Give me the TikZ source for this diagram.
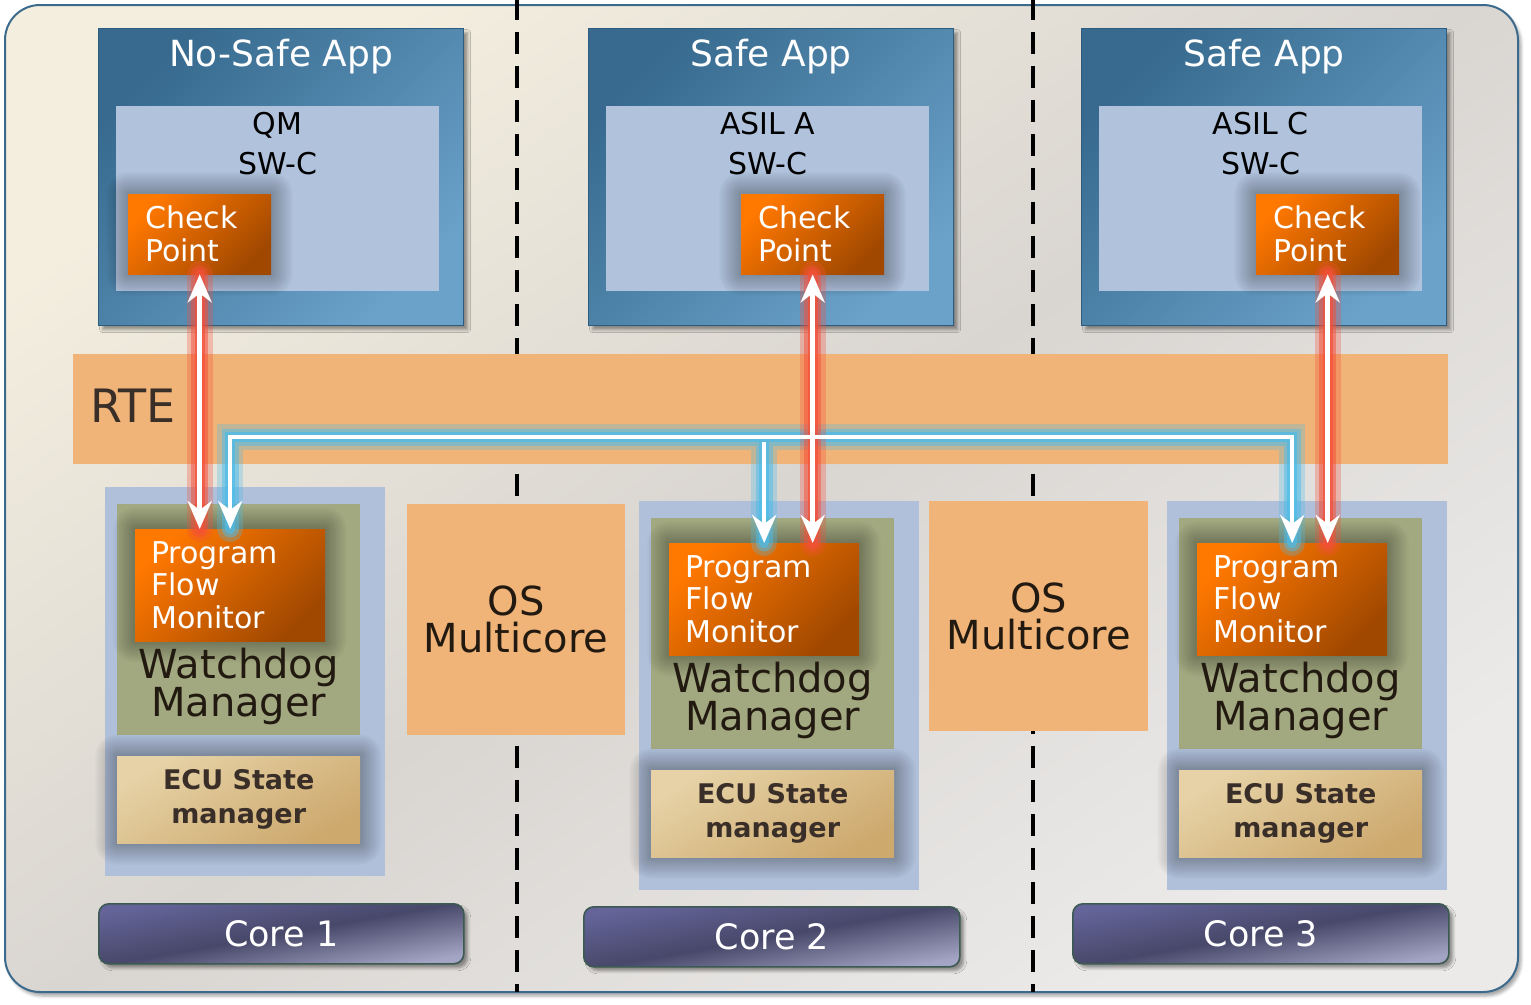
\documentclass[tikz,border=0pt]{standalone}
\usepackage{fontspec}
\setmainfont{DejaVu Sans}
\usetikzlibrary{arrows.meta,shadows,shadows.blur}

\definecolor{appdark}{HTML}{376A8E}
\definecolor{applight}{HTML}{6BA2CA}
\definecolor{appedge}{HTML}{2E5C7E}
\definecolor{swcfill}{HTML}{B0C2DC}
\definecolor{orangelight}{HTML}{FF7800}
\definecolor{orangedark}{HTML}{A04800}
\definecolor{rtefill}{HTML}{F0B378}
\definecolor{stackfill}{HTML}{B0C0DA}
\definecolor{wdgfill}{HTML}{A2A880}
\definecolor{eculight}{HTML}{E6D2A6}
\definecolor{ecudark}{HTML}{CDA96E}
\definecolor{corelight}{HTML}{64649A}
\definecolor{coredark}{HTML}{48486A}
\definecolor{corepale}{HTML}{A4A4C4}
\definecolor{coreedge}{HTML}{3C5A52}
\definecolor{frameedge}{HTML}{3C6A8C}
\definecolor{framecream}{HTML}{F3EEDE}
\definecolor{framegrey}{HTML}{D9D5D1}
\definecolor{framepale}{HTML}{EBEAE9}
\definecolor{textdark}{HTML}{3A2E28}
\definecolor{wdgtext}{HTML}{221A10}
\definecolor{redglow}{HTML}{F4503A}
\definecolor{blueglow}{HTML}{4EBCE8}

% soft dark halo round a box: x, y, width, height
\newcommand\haloat[4]{%
  \foreach \k in {1,...,12}
    \fill[black, opacity=.022, rounded corners=1.8pt*\k]
      (#1-1.8*\k, #2-1.8*\k) rectangle (#1+#3+1.8*\k, #2+#4+1.8*\k);}

\begin{document}
\begin{tikzpicture}[x=1pt, y=-1pt,
  >={Stealth[length=28pt,width=24pt,inset=9pt]},
  box/.style={anchor=north west, inner sep=0pt},
  appbox/.style={box, minimum width=365pt, minimum height=297pt,
      draw=appedge, line width=1.2pt, top color=appdark, bottom color=applight,
      shading angle=45, blur shadow={shadow xshift=4pt, shadow yshift=-4pt,
      shadow blur radius=3pt, shadow opacity=40}},
  apptitle/.style={anchor=north, inner sep=0pt, text=white,
      font=\fontsize{36}{40}\selectfont},
  swcbox/.style={box, minimum width=323pt, minimum height=185pt, fill=swcfill},
  swctext/.style={anchor=north, inner sep=0pt, align=center,
      font=\fontsize{30}{40}\selectfont},
  orangebox/.style={box, top color=orangelight, bottom color=orangedark,
      shading angle=45, text=white, align=left},
  cpbox/.style={orangebox, minimum width=143pt, minimum height=80pt,
      inner xsep=17pt, text width=109pt, font=\fontsize{30}{33}\selectfont},
  pfmbox/.style={orangebox, minimum width=190pt, minimum height=112pt,
      inner xsep=16pt, text width=158pt, font=\fontsize{30}{32.5}\selectfont},
  stackbox/.style={box, minimum width=280pt, minimum height=389pt, fill=stackfill},
  wdgbox/.style={box, minimum width=243pt, minimum height=231pt, fill=wdgfill},
  bigtext/.style={inner sep=0pt, align=center, text=wdgtext,
      font=\fontsize{40}{34}\selectfont},
  ecubox/.style={box, minimum width=243pt, minimum height=87pt, align=center,
      top color=eculight, bottom color=ecudark, shading angle=30, text=textdark,
      font=\fontsize{27}{34}\selectfont\bfseries},
  osbox/.style={box, fill=rtefill, align=center, text=wdgtext,
      font=\fontsize{40}{37}\selectfont},
  corebar/.style={box, minimum height=60pt, rounded corners=10pt,
      draw=coreedge, line width=1.6pt, top color=corelight, bottom color=corepale,
      middle color=coredark, shading angle=10, text=white,
      font=\fontsize{35}{40}\selectfont,
      blur shadow={shadow xshift=4pt, shadow yshift=-4pt,
      shadow blur radius=3pt, shadow opacity=40}},
  divider/.style={line width=4pt, dash pattern=on 22pt off 12pt, dash phase=2pt},
  glow/.style={draw=#1, line width=10pt, line cap=round, opacity=.7,
      preaction={draw=#1, line width=17pt, line cap=round, opacity=.5},
      preaction={draw=#1, line width=26pt, line cap=round, opacity=.3}},
  flow/.style={draw=white, line width=4.5pt}]

\useasboundingbox (0,0) rectangle (1531,1004);

% frame and core separators
\draw[frameedge, line width=2pt, rounded corners=35pt, top color=framecream,
  bottom color=framepale, middle color=framegrey, shading angle=35,
  blur shadow={shadow xshift=3pt, shadow yshift=-4pt, shadow blur radius=3pt,
  shadow opacity=35}] (5,5) rectangle (1518,992);
\draw[divider] (517,0) -- (517,992);
\draw[divider] (1033,0) -- (1033,992);

% applications
\foreach \i/\x/\cpx/\ttl/\lvl in {1/98/128/No-Safe App/QM,
    2/588/741/Safe App/ASIL A, 3/1081/1256/Safe App/ASIL C} {
  \node[appbox] (app\i) at (\x,28) {};
  \node[apptitle] (title\i) at ([yshift=-11pt]app\i.north) {\ttl};
  \node[swcbox] (swc\i) at (\x+18,106) {};
  \node[swctext] (swctext\i) at ([yshift=-6pt]swc\i.north) {\lvl\\SW-C};
  \haloat{\cpx}{194}{143}{80}
  \node[cpbox] (cp\i) at (\cpx,194) {Check\\Point};
}

% RTE
\node[box, minimum width=1375pt, minimum height=110pt, fill=rtefill] (rte) at (73,354) {};
\node[anchor=base west, inner sep=0pt, text=textdark,
  font=\fontsize{46}{50}\selectfont] (rtetext) at (90,422) {RTE};

% OS
\node[osbox, minimum width=218pt, minimum height=231pt] (os1) at (407,504) {OS\\Multicore};
\node[osbox, minimum width=219pt, minimum height=230pt] (os2) at (929,501) {OS\\Multicore};

% cores
\foreach \i/\x/\y/\bx/\by/\bw in {1/105/487/98/903/365,
    2/639/501/583/906/376, 3/1167/501/1072/903/376} {
  \node[stackbox] (stack\i) at (\x,\y) {};
  \node[wdgbox] (wdg\i) at (\x+12,\y+17) {};
  \haloat{\x+30}{\y+42}{190}{112}
  \node[pfmbox] (pfm\i) at (\x+30,\y+42) {Program\\Flow\\Monitor};
  \node[bigtext, anchor=south] (wdgtext\i) at ([yshift=10pt]wdg\i.south) {Watchdog\\Manager};
  \haloat{\x+12}{\y+269}{243}{87}
  \node[ecubox] (ecu\i) at (\x+12,\y+269) {ECU State\\manager};
  \node[corebar, minimum width=\bw pt] (core\i) at (\bx,\by) {Core \i};
}

% flows
\coordinate (bus) at (0,437);
\draw[glow=blueglow] (pfm1.north) |- (bus -| pfm3.north) -- (pfm3.north)
  (bus -| pfm2.north) -- (pfm2.north);
\foreach \i in {1,2,3}
  \draw[glow=redglow] (cp\i.south) -- (cp\i.south |- pfm\i.north);
\foreach \i in {1,2,3}
  \draw[flow, <->] (cp\i.south) -- (cp\i.south |- pfm\i.north);
\draw[flow, <->] (pfm1.north) |- (bus -| pfm3.north) -- (pfm3.north);
\draw[flow, ->] ([yshift=-5pt]bus -| pfm2.north) -- (pfm2.north);
\end{tikzpicture}
\end{document}
